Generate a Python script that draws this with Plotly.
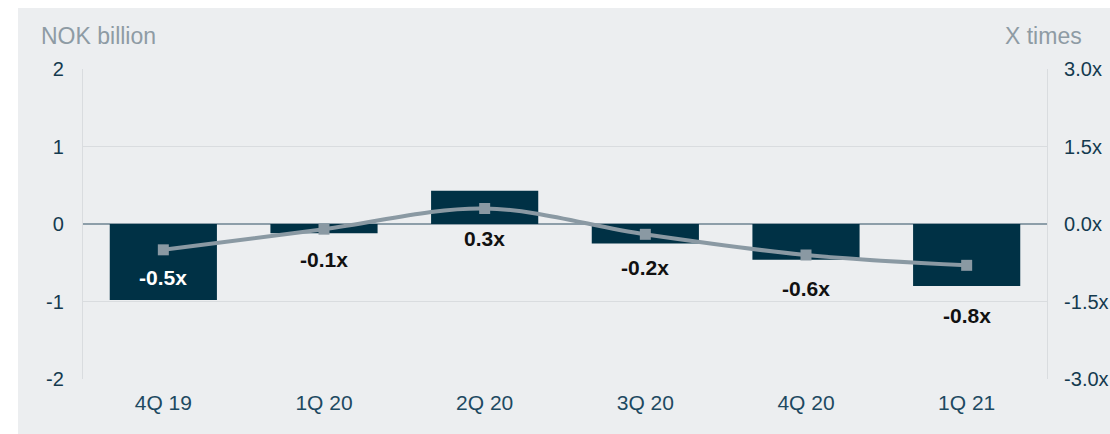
import plotly.graph_objects as go

# Quarterly figures
quarters = ["4Q 19", "1Q 20", "2Q 20", "3Q 20", "4Q 20", "1Q 21"]
nok_billion = [-0.98, -0.12, 0.43, -0.25, -0.46, -0.80]
x_times = [-0.5, -0.1, 0.3, -0.2, -0.6, -0.8]
left_ticks = [-2, -1, 0, 1, 2]
left_tick_text = ["-2", "-1", "0", "1", "2"]
right_ticks = [-3.0, -1.5, 0.0, 1.5, 3.0]
right_tick_text = ["-3.0x", "-1.5x", "0.0x", "1.5x", "3.0x"]

# Styling
FONT = "Liberation Sans, Arial"
PANEL = "#eceef0"
BAR = "#003145"
LINE = "#8a99a3"
TICK = "#143a4f"
GRID = "#d9dcdf"
label_shift = [-28, -30, -30, -33, -33, -50]
label_color = ["#ffffff", "#111111", "#111111", "#111111", "#111111", "#111111"]

W, H = 1110, 434
L, R, T, B = 83, 63, 69, 55
pw, ph = W - L - R, H - T - B

fig = go.Figure()

fig.add_trace(go.Bar(
    x=quarters, y=nok_billion, marker_color=BAR, marker_line_width=0,
    yaxis="y", hoverinfo="skip",
))

fig.add_trace(go.Scatter(
    x=quarters, y=x_times, yaxis="y2", mode="lines+markers",
    line=dict(color=LINE, width=4, shape="spline", smoothing=1.0),
    marker=dict(symbol="square", size=11, color=LINE),
    hoverinfo="skip",
))

annotations = []
for q, v, s, c in zip(quarters, x_times, label_shift, label_color):
    annotations.append(dict(
        x=q, y=v, xref="x", yref="y2", yshift=s,
        text=f"{v:.1f}x", showarrow=False,
        font=dict(family=FONT, size=21, color=c, weight="bold"),
    ))

annotations.append(dict(
    x=(39 - L) / pw, y=(H - B - 36) / ph, xref="paper", yref="paper",
    xanchor="left", yanchor="middle", text="NOK billion", showarrow=False,
    font=dict(family=FONT, size=23, color="#8e9ba4"),
))
annotations.append(dict(
    x=(1084 - L) / pw, y=(H - B - 36) / ph, xref="paper", yref="paper",
    xanchor="right", yanchor="middle", text="X times", showarrow=False,
    font=dict(family=FONT, size=23, color="#8e9ba4"),
))

# Grey panel behind the chart
shapes = [dict(
    type="rect", xref="paper", yref="paper", layer="below",
    x0=(18 - L) / pw, x1=(W - L) / pw + 0.01,
    y0=(H - B - H - 2) / ph, y1=(H - B - 8) / ph,
    fillcolor=PANEL, line=dict(width=0),
)]

fig.update_layout(
    width=W, height=H,
    margin=dict(l=L, r=R, t=T, b=B, pad=0, autoexpand=False),
    paper_bgcolor="#ffffff",
    plot_bgcolor="rgba(0,0,0,0)",
    showlegend=False,
    bargap=0.333,
    font=dict(family=FONT, color=TICK),
    xaxis=dict(
        showgrid=False, showline=False, zeroline=False, ticks="",
        tickfont=dict(size=21, color="#1d4961"),
        ticklabelstandoff=9, automargin=False,
    ),
    yaxis=dict(
        range=[-2, 2], tickvals=left_ticks, ticktext=left_tick_text,
        showgrid=True, gridcolor=GRID,
        gridwidth=1.2, zeroline=True, zerolinecolor="#8d9ea9", zerolinewidth=1.5,
        showline=True, linecolor=GRID, linewidth=1.2, ticks="",
        tickfont=dict(size=20, color=TICK), ticklabelstandoff=14,
        automargin=False,
    ),
    yaxis2=dict(
        range=[-3, 3], tickvals=right_ticks, ticktext=right_tick_text,
        overlaying="y", side="right", showgrid=False, zeroline=False,
        showline=True, linecolor=GRID, linewidth=1.2, ticks="",
        tickfont=dict(size=20, color=TICK), ticklabelstandoff=12,
        automargin=False,
    ),
    annotations=annotations,
    shapes=shapes,
)

fig.write_html("out.html")
